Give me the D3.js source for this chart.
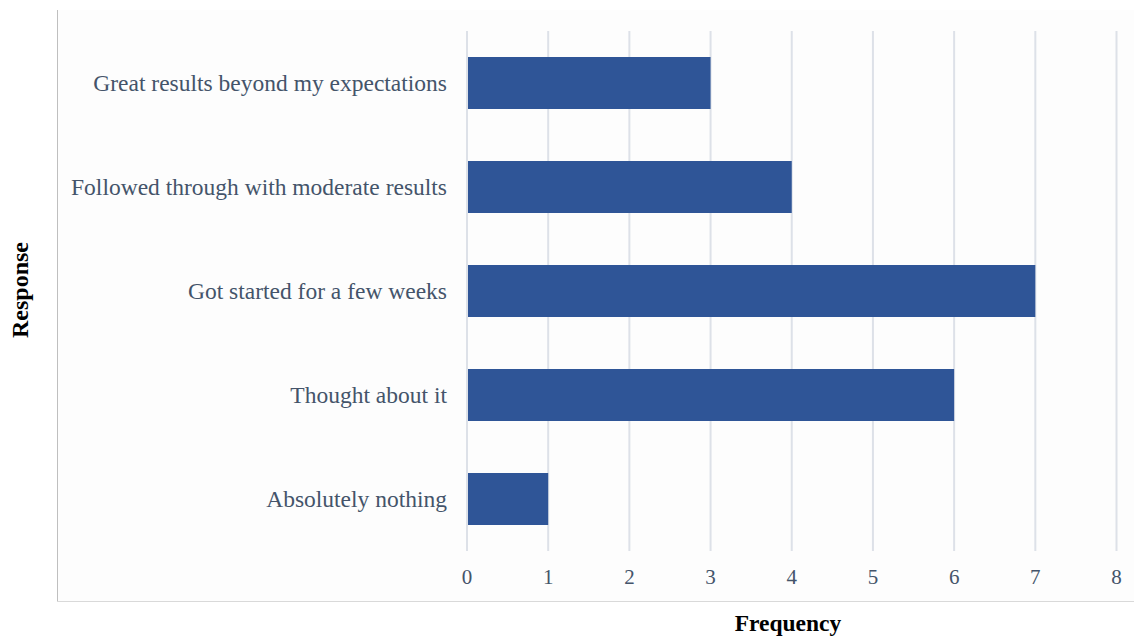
<!DOCTYPE html>
<html><head><meta charset="utf-8">
<script src="https://cdn.jsdelivr.net/npm/d3@7"></script>
<style>body{margin:0;background:#fff}svg{display:block}</style>
</head><body>
<svg id="c" width="1134" height="637"></svg>
<script>
const categories = ["Great results beyond my expectations","Followed through with moderate results","Got started for a few weeks","Thought about it","Absolutely nothing"];
const values = [3, 4, 7, 6, 1];
const xTicks = [0,1,2,3,4,5,6,7,8];
const xTitle = "Frequency";
const yTitle = "Response";

const svg = d3.select("#c");
const font = "'Liberation Serif','Times New Roman',serif";
const labelColor = "#44546a";

// plot frame background
svg.append("rect").attr("x",57).attr("y",10).attr("width",1077).attr("height",591).attr("fill","#fdfdfd");
svg.append("line").attr("x1",57.5).attr("x2",57.5).attr("y1",10).attr("y2",601).attr("stroke","#bfbfbf").attr("stroke-width",1);
svg.append("line").attr("x1",57).attr("x2",1134).attr("y1",601.5).attr("y2",601.5).attr("stroke","#d9d9d9").attr("stroke-width",1);

const x = d3.scaleLinear().domain([0,8]).range([467,1116.5]);
const y = d3.scaleBand().domain(categories).range([31,551]).paddingInner(0.5).paddingOuter(0.25);

// gridlines
svg.append("g").selectAll("line").data(xTicks).join("line")
  .attr("x1",d=>x(d)).attr("x2",d=>x(d)).attr("y1",31).attr("y2",551)
  .attr("stroke","#dde1e8").attr("stroke-width",2);

// bars
svg.append("g").selectAll("rect").data(values).join("rect")
  .attr("x",x(0)+1).attr("y",(d,i)=>y(categories[i]))
  .attr("width",d=>x(d)-x(0)-1).attr("height",y.bandwidth())
  .attr("fill","#2f5597");

// y labels
svg.append("g").selectAll("text").data(categories).join("text")
  .attr("x",447).attr("y",d=>y(d)+y.bandwidth()/2).attr("dy","0.35em")
  .attr("text-anchor","end").attr("font-family",font).attr("font-size",23.5)
  .attr("fill",labelColor).text(d=>d);

// x tick labels
svg.append("g").selectAll("text").data(xTicks).join("text")
  .attr("x",d=>x(d)).attr("y",577).attr("dy","0.35em")
  .attr("text-anchor","middle").attr("font-family",font).attr("font-size",21)
  .attr("fill",labelColor).text(d=>d);

// axis titles
svg.append("text").attr("x",788).attr("y",623).attr("dy","0.35em").attr("text-anchor","middle")
  .attr("font-family",font).attr("font-size",23.5).attr("font-weight","bold").attr("fill","#000").text(xTitle);
svg.append("text").attr("transform","translate(20,290) rotate(-90)").attr("dy","0.35em").attr("text-anchor","middle")
  .attr("font-family",font).attr("font-size",24).attr("font-weight","bold").attr("fill","#000").text(yTitle);
</script>
</body></html>
